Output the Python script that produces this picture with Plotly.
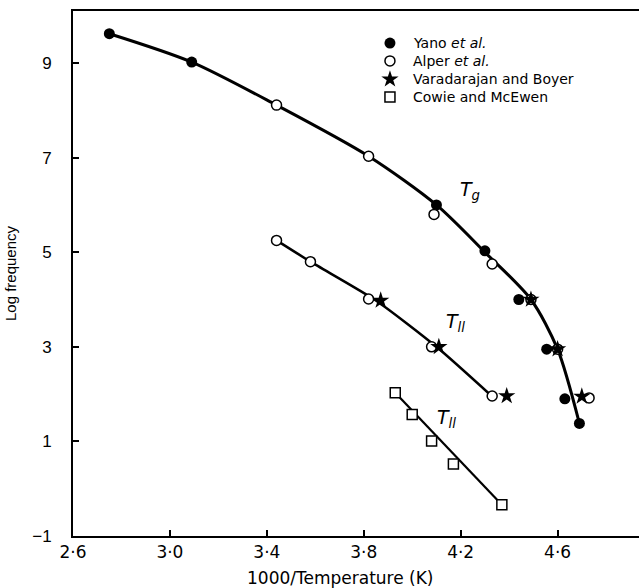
import plotly.graph_objects as go

# Guide curves drawn through the data
tg_curve_x = [2.75, 3.09, 3.44, 3.82, 4.10, 4.30, 4.49, 4.60, 4.69]
tg_curve_y = [9.62, 9.02, 8.11, 7.03, 6.00, 5.00, 4.00, 2.95, 1.38]
tll_upper_x = [3.44, 3.58, 3.85, 4.10, 4.33]
tll_upper_y = [5.25, 4.80, 3.98, 3.00, 1.95]
tll_lower_x = [3.93, 4.37]
tll_lower_y = [2.03, -0.34]

# Yano et al. (filled circles)
yano_x = [2.75, 3.09, 4.10, 4.30, 4.44, 4.555, 4.63, 4.69]
yano_y = [9.62, 9.02, 6.00, 5.03, 4.00, 2.95, 1.90, 1.38]

# Alper et al. (open circles)
alper_x = [3.44, 3.82, 4.09, 4.33, 4.49, 4.60, 4.73,
           3.44, 3.58, 3.82, 4.08, 4.33]
alper_y = [8.11, 7.03, 5.80, 4.75, 4.00, 2.95, 1.92,
           5.25, 4.80, 4.01, 3.00, 1.96]

# Varadarajan and Boyer (stars)
vara_x = [4.49, 4.60, 4.70, 3.87, 4.11, 4.39]
vara_y = [4.00, 2.95, 1.95, 3.98, 3.00, 1.96]

# Cowie and McEwen (open squares)
cowie_x = [3.93, 4.00, 4.08, 4.17, 4.37]
cowie_y = [2.03, 1.57, 1.01, 0.52, -0.34]

series_names = ["Yano <i>et al.</i>", "Alper <i>et al.</i>",
                "Varadarajan and Boyer", "Cowie and McEwen"]

x_ticks = [2.6, 3.0, 3.4, 3.8, 4.2, 4.6]
x_tick_text = ["2·6", "3·0", "3·4", "3·8", "4·2", "4·6"]
y_ticks = [-1, 1, 3, 5, 7, 9]
y_tick_text = ["−1", "1", "3", "5", "7", "9"]

styles = [
    dict(symbol="circle", size=11, color="black", line=dict(color="black", width=0)),
    dict(symbol="circle", size=10, color="white", line=dict(color="black", width=1.5)),
    dict(symbol="star", size=13, color="black", line=dict(color="black", width=0)),
    dict(symbol="square", size=10, color="white", line=dict(color="black", width=1.5)),
]

fig = go.Figure()

fig.add_trace(go.Scatter(x=tg_curve_x, y=tg_curve_y, mode="lines",
                         line=dict(color="black", width=3, shape="spline", smoothing=0.8),
                         showlegend=False, hoverinfo="skip"))
fig.add_trace(go.Scatter(x=tll_upper_x, y=tll_upper_y, mode="lines",
                         line=dict(color="black", width=2.5, shape="spline", smoothing=0.6),
                         showlegend=False, hoverinfo="skip"))
fig.add_trace(go.Scatter(x=tll_lower_x, y=tll_lower_y, mode="lines",
                         line=dict(color="black", width=2.2),
                         showlegend=False, hoverinfo="skip"))

for name, xs, ys, st in zip(series_names,
                            [yano_x, alper_x, vara_x, cowie_x],
                            [yano_y, alper_y, vara_y, cowie_y], styles):
    fig.add_trace(go.Scatter(x=xs, y=ys, mode="markers", name=name,
                             marker=st, showlegend=False))

# Key: markers on an overlay axis spanning 0..1, text as annotations
key_marker_x = 0.560
key_text_x = 0.598
key_rows = [0.939, 0.905, 0.870, 0.836]
for name, st, ky in zip(series_names, styles, key_rows):
    fig.add_trace(go.Scatter(x=[key_marker_x], y=[ky], mode="markers",
                             marker=st, xaxis="x2", yaxis="y2",
                             showlegend=False, hoverinfo="skip"))
    fig.add_annotation(x=key_text_x, y=ky, xref="paper", yref="paper",
                       xanchor="left", yanchor="middle", text=name, showarrow=False,
                       font=dict(family="DejaVu Sans, sans-serif", size=14, color="black"))

label_font = dict(family="DejaVu Sans, sans-serif", size=19, color="black")
fig.add_annotation(x=4.238, y=6.31, text="<i>T<sub>g</sub></i>", showarrow=False, font=label_font)
fig.add_annotation(x=4.177, y=3.52, text="<i>T<sub>ll</sub></i>", showarrow=False, font=label_font)
fig.add_annotation(x=4.143, y=1.49, text="<i>T<sub>ll</sub></i>", showarrow=False, font=label_font)

# x-axis title, centred slightly left of the plot-area centre
fig.add_annotation(x=0.472, y=-0.08, xref="paper", yref="paper",
                   xanchor="center", yanchor="middle", text="1000/Temperature (K)",
                   showarrow=False,
                   font=dict(family="DejaVu Sans, sans-serif", size=17, color="black"))

fig.update_layout(
    width=639, height=588,
    margin=dict(l=73, r=0, t=11, b=52),
    paper_bgcolor="white", plot_bgcolor="white",
    font=dict(family="DejaVu Sans, sans-serif", color="black", size=15),
    showlegend=False,
    xaxis=dict(range=[2.6, 4.936], showgrid=False, zeroline=False,
               showline=True, linecolor="black", linewidth=2, mirror=True,
               ticks="inside", ticklen=6, tickcolor="black", tickwidth=1.5,
               tickvals=x_ticks, ticktext=x_tick_text,
               tickfont=dict(size=17, family="DejaVu Sans, sans-serif")),
    yaxis=dict(range=[-1, 10.1], showgrid=False, zeroline=False,
               showline=True, linecolor="black", linewidth=2,
               ticks="inside", ticklen=6, tickcolor="black", tickwidth=1.5,
               tickvals=y_ticks, ticktext=y_tick_text,
               ticklabelstandoff=16,
               tickfont=dict(size=17, family="Liberation Sans, sans-serif"),
               title=dict(text="Log frequency", standoff=12,
                          font=dict(size=15, family="Liberation Sans, sans-serif"))),
    xaxis2=dict(range=[0, 1], overlaying="x", visible=False, fixedrange=True),
    yaxis2=dict(range=[0, 1], overlaying="y", visible=False, fixedrange=True),
)

fig.write_html("out.html")
